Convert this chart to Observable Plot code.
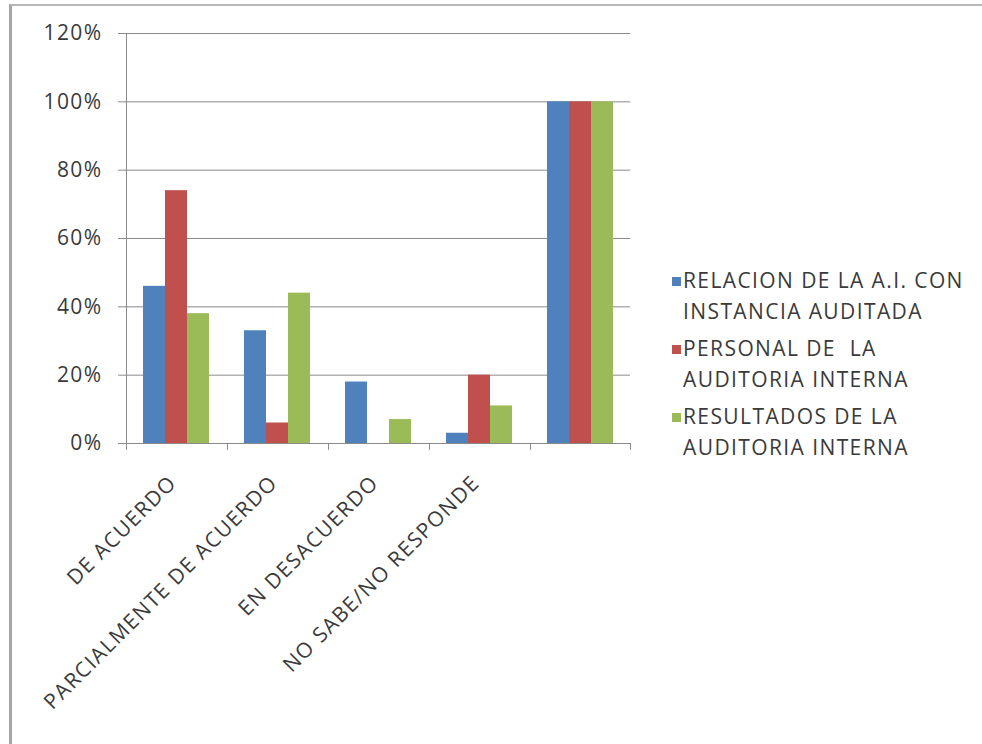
<!DOCTYPE html>
<html>
<head>
<meta charset="utf-8">
<script src="https://cdn.jsdelivr.net/npm/d3@7"></script>
<script src="https://cdn.jsdelivr.net/npm/@observablehq/plot@0.6"></script>
<style>
  html, body { margin: 0; padding: 0; background: #fff; }
  #wrap { position: relative; width: 982px; height: 744px; overflow: hidden; font-family: "Open Sans", sans-serif; }
  #border { position: absolute; left: 9px; top: 4px; right: 0; bottom: 0; border-left: 3px solid #a6a6a6; border-top: 2px solid #b8b8b8; }
  #legend { position: absolute; left: 672px; top: 265px; color: #3a3a3a; font-size: 21px; line-height: 31px; letter-spacing: 1.4px; }
  .item { position: relative; padding-left: 11px; margin-bottom: 6px; }
  .sw { position: absolute; left: 0; top: 12px; width: 9px; height: 9px; }
  #chart svg text { letter-spacing: 1.4px; }
</style>
</head>
<body>
<div id="wrap">
  <div id="border"></div>
  <div id="chart"></div>
  <div id="legend"></div>
</div>
<script>
const categories = ["DE ACUERDO", "PARCIALMENTE DE ACUERDO", "EN DESACUERDO", "NO SABE/NO RESPONDE", ""];
const series = ["RELACION DE LA A.I. CON INSTANCIA AUDITADA", "PERSONAL DE  LA AUDITORIA INTERNA", "RESULTADOS DE LA AUDITORIA INTERNA"];
const legendLines = [["RELACION DE LA A.I. CON", "INSTANCIA AUDITADA"], ["PERSONAL DE\u00a0 LA", "AUDITORIA INTERNA"], ["RESULTADOS DE LA", "AUDITORIA INTERNA"]];
const relacion = [0.46, 0.33, 0.18, 0.03, 1.00];
const personal = [0.74, 0.06, 0.00, 0.20, 1.00];
const resultados = [0.38, 0.44, 0.07, 0.11, 1.00];
const colors = ["#4F81BD", "#C0504D", "#9BBB59"];
const yTicks = [0, 0.2, 0.4, 0.6, 0.8, 1.0, 1.2];

const values = [relacion, personal, resultados];
const data = [];
categories.forEach((c, i) => series.forEach((s, j) => data.push({cat: c, series: s, value: values[j][i]})));

const W = 982, H = 744, mL = 125, mR = 352, mT = 33, mB = 301;
const xPadOuter = 0.745;
const facetStep = (W - mL - mR) / categories.length;
const barW = facetStep / (series.length + 2 * xPadOuter);
const edge = (xPadOuter + 0.5) * barW;
const grid = "#8a8a8a";

const chart = Plot.plot({
  width: W, height: H,
  marginLeft: mL, marginRight: mR, marginTop: mT, marginBottom: mB,
  style: {fontFamily: "'Open Sans', sans-serif", color: "#3a3a3a", background: "transparent"},
  fx: {domain: categories, padding: 0, label: null, axis: null},
  x: {domain: series, paddingInner: 0, paddingOuter: xPadOuter, axis: null},
  y: {domain: [0, 1.2], axis: null},
  color: {domain: series, range: colors},
  marks: [
    Plot.ruleY(yTicks, {stroke: grid, strokeWidth: 1, strokeOpacity: 1}),
    Plot.ruleX([series[0]], {x: d => d, fx: () => categories[0], y1: 0, y2: 1.2, dx: -edge, stroke: grid}),
    Plot.ruleX(categories, {fx: d => d, x: () => series[0], y1: 0, y2: -0.02, dx: -edge, stroke: grid}),
    Plot.ruleX([categories[categories.length - 1]], {fx: d => d, x: () => series[series.length - 1], y1: 0, y2: -0.02, dx: edge, stroke: grid}),
    Plot.barY(data, {fx: "cat", x: "series", y: "value", fill: "series", inset: 0}),
    Plot.axisY({ticks: yTicks, tickFormat: d3.format(".0%"), tickSize: 7, tickPadding: 16, fontSize: 21, stroke: grid, fill: "#3a3a3a", label: null}),
    Plot.axisFx({anchor: "bottom", tickRotate: -45, tickSize: 0, tickPadding: 36, dx: -3, fontSize: 21, fill: "#3a3a3a", label: null})
  ]
});
document.getElementById("chart").appendChild(chart);

const legend = document.getElementById("legend");
legendLines.forEach((lines, i) => {
  const div = document.createElement("div");
  div.className = "item";
  const sw = document.createElement("span");
  sw.className = "sw";
  sw.style.background = colors[i];
  div.appendChild(sw);
  lines.forEach(l => { const t = document.createElement("div"); t.textContent = l; div.appendChild(t); });
  legend.appendChild(div);
});
</script>
</body>
</html>
